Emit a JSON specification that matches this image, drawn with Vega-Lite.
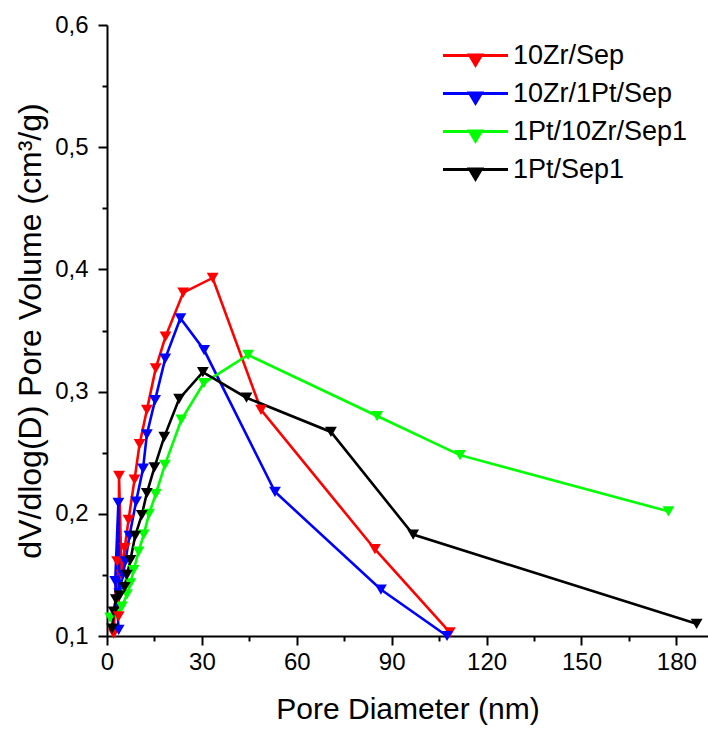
{
  "$schema": "https://vega.github.io/schema/vega-lite/v6.json",
  "width": 601,
  "height": 611,
  "autosize": "none",
  "padding": {"left": 107, "top": 25, "right": 0, "bottom": 93},
  "background": "white",
  "config": {
    "view": {"stroke": null},
    "font": "Liberation Sans"
  },
  "data": {
    "values": [
      {"s": "10Zr/Sep", "i": 1, "d": 2.1, "v": 0.102},
      {"s": "10Zr/Sep", "i": 2, "d": 3.2, "v": 0.161},
      {"s": "10Zr/Sep", "i": 3, "d": 3.7, "v": 0.116},
      {"s": "10Zr/Sep", "i": 4, "d": 3.8, "v": 0.231},
      {"s": "10Zr/Sep", "i": 5, "d": 4.6, "v": 0.150},
      {"s": "10Zr/Sep", "i": 6, "d": 5.6, "v": 0.172},
      {"s": "10Zr/Sep", "i": 7, "d": 6.8, "v": 0.195},
      {"s": "10Zr/Sep", "i": 8, "d": 8.7, "v": 0.228},
      {"s": "10Zr/Sep", "i": 9, "d": 10.3, "v": 0.257},
      {"s": "10Zr/Sep", "i": 10, "d": 12.6, "v": 0.285},
      {"s": "10Zr/Sep", "i": 11, "d": 15.4, "v": 0.319},
      {"s": "10Zr/Sep", "i": 12, "d": 18.5, "v": 0.345},
      {"s": "10Zr/Sep", "i": 13, "d": 24.1, "v": 0.381},
      {"s": "10Zr/Sep", "i": 14, "d": 33.4, "v": 0.393},
      {"s": "10Zr/Sep", "i": 15, "d": 48.7, "v": 0.285},
      {"s": "10Zr/Sep", "i": 16, "d": 84.7, "v": 0.171},
      {"s": "10Zr/Sep", "i": 17, "d": 108.4, "v": 0.103},

      {"s": "10Zr/1Pt/Sep", "i": 1, "d": 3.7, "v": 0.105},
      {"s": "10Zr/1Pt/Sep", "i": 2, "d": 2.6, "v": 0.145},
      {"s": "10Zr/1Pt/Sep", "i": 3, "d": 3.6, "v": 0.209},
      {"s": "10Zr/1Pt/Sep", "i": 4, "d": 3.9, "v": 0.135},
      {"s": "10Zr/1Pt/Sep", "i": 5, "d": 5.0, "v": 0.150},
      {"s": "10Zr/1Pt/Sep", "i": 6, "d": 5.8, "v": 0.161},
      {"s": "10Zr/1Pt/Sep", "i": 7, "d": 7.1, "v": 0.182},
      {"s": "10Zr/1Pt/Sep", "i": 8, "d": 9.2, "v": 0.210},
      {"s": "10Zr/1Pt/Sep", "i": 9, "d": 11.4, "v": 0.237},
      {"s": "10Zr/1Pt/Sep", "i": 10, "d": 12.6, "v": 0.265},
      {"s": "10Zr/1Pt/Sep", "i": 11, "d": 15.2, "v": 0.293},
      {"s": "10Zr/1Pt/Sep", "i": 12, "d": 18.4, "v": 0.327},
      {"s": "10Zr/1Pt/Sep", "i": 13, "d": 23.2, "v": 0.360},
      {"s": "10Zr/1Pt/Sep", "i": 14, "d": 30.7, "v": 0.334},
      {"s": "10Zr/1Pt/Sep", "i": 15, "d": 53.1, "v": 0.218},
      {"s": "10Zr/1Pt/Sep", "i": 16, "d": 86.6, "v": 0.138},
      {"s": "10Zr/1Pt/Sep", "i": 17, "d": 107.5, "v": 0.100},

      {"s": "1Pt/10Zr/Sep1", "i": 1, "d": 1.0, "v": 0.115},
      {"s": "1Pt/10Zr/Sep1", "i": 2, "d": 3.0, "v": 0.118},
      {"s": "1Pt/10Zr/Sep1", "i": 3, "d": 4.7, "v": 0.124},
      {"s": "1Pt/10Zr/Sep1", "i": 4, "d": 6.3, "v": 0.134},
      {"s": "1Pt/10Zr/Sep1", "i": 5, "d": 7.4, "v": 0.143},
      {"s": "1Pt/10Zr/Sep1", "i": 6, "d": 8.4, "v": 0.154},
      {"s": "1Pt/10Zr/Sep1", "i": 7, "d": 10.0, "v": 0.169},
      {"s": "1Pt/10Zr/Sep1", "i": 8, "d": 11.6, "v": 0.183},
      {"s": "1Pt/10Zr/Sep1", "i": 9, "d": 13.3, "v": 0.200},
      {"s": "1Pt/10Zr/Sep1", "i": 10, "d": 15.4, "v": 0.216},
      {"s": "1Pt/10Zr/Sep1", "i": 11, "d": 18.3, "v": 0.240},
      {"s": "1Pt/10Zr/Sep1", "i": 12, "d": 23.5, "v": 0.277},
      {"s": "1Pt/10Zr/Sep1", "i": 13, "d": 30.6, "v": 0.307},
      {"s": "1Pt/10Zr/Sep1", "i": 14, "d": 44.6, "v": 0.330},
      {"s": "1Pt/10Zr/Sep1", "i": 15, "d": 85.4, "v": 0.280},
      {"s": "1Pt/10Zr/Sep1", "i": 16, "d": 111.6, "v": 0.248},
      {"s": "1Pt/10Zr/Sep1", "i": 17, "d": 177.5, "v": 0.202},

      {"s": "1Pt/Sep1", "i": 1, "d": 1.6, "v": 0.106},
      {"s": "1Pt/Sep1", "i": 2, "d": 2.1, "v": 0.120},
      {"s": "1Pt/Sep1", "i": 3, "d": 2.8, "v": 0.130},
      {"s": "1Pt/Sep1", "i": 4, "d": 4.0, "v": 0.133},
      {"s": "1Pt/Sep1", "i": 5, "d": 5.6, "v": 0.140},
      {"s": "1Pt/Sep1", "i": 6, "d": 6.3, "v": 0.150},
      {"s": "1Pt/Sep1", "i": 7, "d": 7.4, "v": 0.162},
      {"s": "1Pt/Sep1", "i": 8, "d": 8.9, "v": 0.182},
      {"s": "1Pt/Sep1", "i": 9, "d": 11.0, "v": 0.199},
      {"s": "1Pt/Sep1", "i": 10, "d": 12.6, "v": 0.217},
      {"s": "1Pt/Sep1", "i": 11, "d": 15.0, "v": 0.238},
      {"s": "1Pt/Sep1", "i": 12, "d": 18.1, "v": 0.263},
      {"s": "1Pt/Sep1", "i": 13, "d": 22.8, "v": 0.294},
      {"s": "1Pt/Sep1", "i": 14, "d": 30.3, "v": 0.316},
      {"s": "1Pt/Sep1", "i": 15, "d": 44.1, "v": 0.295},
      {"s": "1Pt/Sep1", "i": 16, "d": 70.8, "v": 0.267},
      {"s": "1Pt/Sep1", "i": 17, "d": 96.8, "v": 0.183},
      {"s": "1Pt/Sep1", "i": 18, "d": 186.4, "v": 0.110}
    ]
  },
  "encoding": {
    "x": {
      "field": "d", "type": "quantitative",
      "scale": {"domain": [0, 190], "nice": false, "zero": false},
      "axis": {
        "title": "Pore Diameter (nm)",
        "values": [0, 15, 30, 45, 60, 75, 90, 105, 120, 135, 150, 165, 180],
        "labelExpr": "datum.value % 30 == 0 ? datum.label : ''",
        "grid": false,
        "domainColor": "black", "domainWidth": 2,
        "tickColor": "black", "tickWidth": 2,
        "tickSize": {"condition": {"test": "datum.value % 30 == 0", "value": 9}, "value": 5},
        "labelFontSize": 24, "labelColor": "black", "labelPadding": 5, "labelFont": "Liberation Sans",
        "labelFlush": false,
        "titleFontSize": 30, "titleFontWeight": "normal", "titleColor": "black", "titlePadding": 20, "titleFont": "Liberation Sans"
      }
    },
    "y": {
      "field": "v", "type": "quantitative",
      "scale": {"domain": [0.1, 0.6], "nice": false, "zero": false},
      "axis": {
        "title": "dV/dlog(D) Pore Volume (cm³/g)",
        "values": [0.1, 0.15, 0.2, 0.25, 0.3, 0.35, 0.4, 0.45, 0.5, 0.55, 0.6],
        "labelExpr": "abs(datum.value*10 - round(datum.value*10)) < 0.01 ? replace(format(datum.value, '.1f'), '.', ',') : ''",
        "grid": false,
        "domainColor": "black", "domainWidth": 2,
        "tickColor": "black", "tickWidth": 2,
        "tickSize": {"condition": {"test": "abs(datum.value*10 - round(datum.value*10)) < 0.01", "value": 9}, "value": 5},
        "labelFontSize": 24, "labelColor": "black", "labelPadding": 10, "labelFont": "Liberation Sans",
        "labelFlush": false,
        "titleFontSize": 32, "titleFontWeight": "normal", "titleColor": "black", "titlePadding": 7, "titleFont": "Liberation Sans"
      }
    },
    "color": {
      "field": "s", "type": "nominal",
      "scale": {
        "domain": ["10Zr/Sep", "10Zr/1Pt/Sep", "1Pt/10Zr/Sep1", "1Pt/Sep1"],
        "range": ["#FF0000", "#0000FF", "#00FF00", "#000000"]
      }
    },
    "order": {"field": "i", "type": "quantitative"}
  },
  "layer": [
    {
      "mark": {"type": "line", "strokeWidth": 2.6},
      "encoding": {
        "color": {
          "field": "s", "type": "nominal",
          "scale": {
            "domain": ["10Zr/Sep", "10Zr/1Pt/Sep", "1Pt/10Zr/Sep1", "1Pt/Sep1"],
            "range": ["#FF0000", "#0000FF", "#00FF00", "#000000"]
          },
          "legend": {
            "title": null,
            "orient": "none",
            "legendX": 355,
            "legendY": 17,
            "labelFontSize": 27,
            "labelFont": "Liberation Sans",
            "labelColor": "black",
            "labelOffset": 24,
            "labelLimit": 400,
            "rowPadding": 8,
            "symbolType": "M-3.25,0L3.25,0M-0.6,-0.06L0.6,-0.06L0,0.95Z",
            "symbolSize": 400,
            "symbolStrokeWidth": 3,
            "encode": {
              "symbols": {
                "update": {
                  "fill": {"scale": "color", "field": "value"},
                  "stroke": {"scale": "color", "field": "value"},
                  "strokeWidth": {"value": 3},
                  "opacity": {"value": 1},
                  "fillOpacity": {"value": 1}
                }
              }
            }
          }
        }
      }
    },
    {
      "mark": {"type": "point", "shape": "triangle-down", "filled": true, "size": 140, "opacity": 1},
      "encoding": {
        "color": {
          "field": "s", "type": "nominal",
          "scale": {
            "domain": ["10Zr/Sep", "10Zr/1Pt/Sep", "1Pt/10Zr/Sep1", "1Pt/Sep1"],
            "range": ["#FF0000", "#0000FF", "#00FF00", "#000000"]
          },
          "legend": null
        }
      }
    }
  ]
}
